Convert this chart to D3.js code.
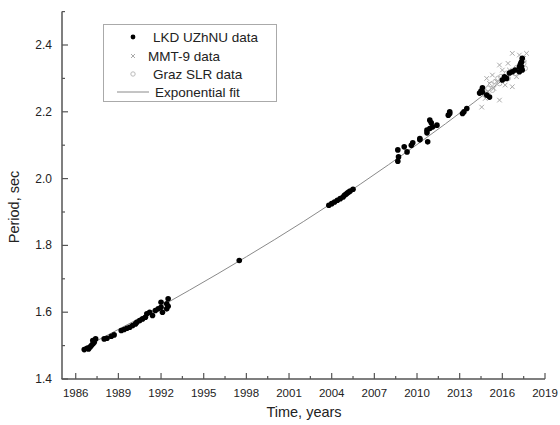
<!DOCTYPE html>
<html><head><meta charset="utf-8">
<script src="https://cdn.jsdelivr.net/npm/d3@7"></script>
<style>body{margin:0;background:#fff}svg{display:block;font-family:"Liberation Sans",Arial,sans-serif}</style>
</head><body><svg id="c" width="560" height="425"></svg>
<script>
const xTicks = [1986,1989,1992,1995,1998,2001,2004,2007,2010,2013,2016,2019];
const yTicks = [1.4,1.6,1.8,2.0,2.2,2.4];
const legendLabels = ["LKD UZhNU data","MMT-9 data","Graz SLR data","Exponential fit"];

const lkdYears = [1986.6,1986.8,1986.9,1987.0,1987.1,1987.2,1987.3,1987.2,1987.4,1988.0,1988.2,1988.5,1988.7,
  1989.2,1989.4,1989.6,1989.8,1990.0,1990.2,1990.3,1990.5,1990.7,1990.9,1991.0,1991.2,1991.4,1991.6,1991.8,1992.0,1992.0,1992.1,1992.4,1992.4,1992.5,1992.5,
  1997.5,
  2003.8,2004.0,2004.2,2004.4,2004.6,2004.8,2004.9,2005.0,2005.1,2005.2,2005.3,2005.5,
  2008.65,2008.65,2008.7,2009.1,2009.3,2009.6,2009.7,2010.2,2010.2,2010.7,2010.75,2010.7,2010.9,2010.9,2011.0,2011.1,2011.4,2012.2,2012.3,2012.3,2013.2,2013.3,2013.5,
  2014.4,2014.6,2014.6,2014.9,2015.1,2014.5,2016.0,2016.15,2016.3,2016.5,2016.7,2016.9,2017.2,2017.2,2017.35,2017.35,2017.4,2017.3,2017.4,2017.25];
const lkdPeriods = [1.488,1.492,1.490,1.495,1.500,1.505,1.510,1.515,1.520,1.520,1.522,1.528,1.532,
  1.545,1.548,1.552,1.555,1.560,1.565,1.570,1.575,1.580,1.585,1.595,1.600,1.590,1.605,1.610,1.615,1.630,1.600,1.610,1.625,1.640,1.618,
  1.755,
  1.920,1.925,1.930,1.935,1.940,1.945,1.950,1.953,1.957,1.960,1.963,1.968,
  2.052,2.086,2.065,2.095,2.080,2.100,2.107,2.116,2.120,2.137,2.110,2.145,2.150,2.175,2.167,2.155,2.160,2.190,2.195,2.200,2.195,2.200,2.210,
  2.256,2.259,2.272,2.250,2.244,2.262,2.295,2.305,2.300,2.316,2.320,2.325,2.320,2.334,2.335,2.350,2.360,2.345,2.325,2.340];

const mmtYears = [2014.55,2015.8,2016.7,2016.7,2017.2,2015.8,2014.9,2015.3,2015.6,2016.0,2017.0,2016.4,2016.5,2015.4,2015.1,2017.5,2017.7,2016.2,2015.0,2014.8];
const mmtPeriods = [2.214,2.235,2.275,2.375,2.370,2.340,2.300,2.310,2.290,2.325,2.305,2.345,2.325,2.270,2.285,2.360,2.375,2.280,2.260,2.240];

const grazYears = [2014.7,2015.0,2015.2,2015.5,2015.7,2015.9,2016.1,2016.3,2016.6,2016.8,2017.0,2017.3,2017.5,2015.3,2015.8,2016.4,2016.9,2017.6];
const grazPeriods = [2.262,2.270,2.282,2.290,2.300,2.305,2.300,2.315,2.320,2.322,2.332,2.338,2.345,2.265,2.285,2.300,2.315,2.330];

const fitYears = [1986.5,1990,1994,1998,2002,2006,2010,2014,2017.7];
const fitPeriods = [1.493,1.571,1.666,1.766,1.871,1.983,2.102,2.228,2.352];

const svg = d3.select("#c");
const x = d3.scaleLinear().domain([1985,2019]).range([61.5,545]);
const y = d3.scaleLinear().domain([1.4,2.5]).range([379,11.6]);
const axisCol = "#555", textCol = "#222";

svg.append("path")
  .datum(fitYears.map((d,i)=>[d,fitPeriods[i]]))
  .attr("fill","none").attr("stroke","#8a8a8a").attr("stroke-width",1)
  .attr("d", d3.line().x(d=>x(d[0])).y(d=>y(d[1])).curve(d3.curveMonotoneX));

svg.append("g").selectAll("circle").data(grazYears.map((d,i)=>[d,grazPeriods[i]])).join("circle")
  .attr("cx",d=>x(d[0])).attr("cy",d=>y(d[1])).attr("r",2.4)
  .attr("fill","none").attr("stroke","#bbb").attr("stroke-width",1);

const cr = 2.3;
svg.append("g").selectAll("path").data(mmtYears.map((d,i)=>[d,mmtPeriods[i]])).join("path")
  .attr("d",d=>{const cx=x(d[0]),cy=y(d[1]);return `M${cx-cr},${cy-cr}L${cx+cr},${cy+cr}M${cx-cr},${cy+cr}L${cx+cr},${cy-cr}`;})
  .attr("stroke","#aaa").attr("stroke-width",1);

svg.append("g").selectAll("circle").data(lkdYears.map((d,i)=>[d,lkdPeriods[i]])).join("circle")
  .attr("cx",d=>x(d[0])).attr("cy",d=>y(d[1])).attr("r",2.8).attr("fill","#000");

const gx = svg.append("g").attr("transform","translate(0,379)");
gx.append("line").attr("x1",61.5).attr("x2",545).attr("stroke",axisCol).attr("stroke-width",1.5);
gx.selectAll(".mj").data(xTicks).join("line").attr("x1",d=>x(d)).attr("x2",d=>x(d)).attr("y1",0).attr("y2",-6).attr("stroke",axisCol).attr("stroke-width",1.2);
gx.selectAll(".mn").data(xTicks.slice(0,-1).map(d=>d+1.5)).join("line").attr("x1",d=>x(d)).attr("x2",d=>x(d)).attr("y1",0).attr("y2",-3).attr("stroke",axisCol).attr("stroke-width",1.2);
gx.selectAll("text").data(xTicks).join("text").attr("x",d=>x(d)).attr("y",18).attr("text-anchor","middle")
  .attr("font-size",11.5).attr("fill",textCol).text(d=>d);

const gy = svg.append("g").attr("transform","translate(62,0)");
gy.append("line").attr("y1",y(2.5)).attr("y2",379).attr("stroke",axisCol).attr("stroke-width",1.5);
gy.selectAll(".mj").data(yTicks).join("line").attr("y1",d=>y(d)).attr("y2",d=>y(d)).attr("x1",0).attr("x2",6).attr("stroke",axisCol).attr("stroke-width",1.2);
gy.selectAll(".mn").data(yTicks.map(d=>d+0.1)).join("line").attr("y1",d=>y(d)).attr("y2",d=>y(d)).attr("x1",0).attr("x2",3).attr("stroke",axisCol).attr("stroke-width",1.2);
gy.selectAll("text").data(yTicks).join("text").attr("x",-10).attr("y",d=>y(d)+4).attr("text-anchor","end")
  .attr("font-size",12).attr("fill",textCol).text(d=>d.toFixed(1));

svg.append("text").attr("x",304).attr("y",417).attr("text-anchor","middle").attr("font-size",14.5).attr("fill",textCol).text("Time, years");
svg.append("text").attr("transform","translate(19,207) rotate(-90)").attr("text-anchor","middle").attr("font-size",14.5).attr("fill",textCol).text("Period, sec");

const lg = svg.append("g");
lg.append("rect").attr("x",103.5).attr("y",24.5).attr("width",173).attr("height",77).attr("fill","#fff").attr("stroke","#aaa").attr("stroke-width",1);
const rows = [37,56,74,92];
lg.append("circle").attr("cx",133).attr("cy",rows[0]).attr("r",2.4).attr("fill","#000");
lg.append("path").attr("d",`M${131},${rows[1]-2}L${135},${rows[1]+2}M${131},${rows[1]+2}L${135},${rows[1]-2}`).attr("stroke","#aaa").attr("stroke-width",1);
lg.append("circle").attr("cx",133).attr("cy",rows[2]).attr("r",2.2).attr("fill","none").attr("stroke","#bbb").attr("stroke-width",1);
lg.append("line").attr("x1",117).attr("x2",149).attr("y1",rows[3]).attr("y2",rows[3]).attr("stroke","#8a8a8a").attr("stroke-width",1);
const lx = [153,148,153,155];
lg.selectAll("text").data(legendLabels).join("text").attr("x",(d,i)=>lx[i]).attr("y",(d,i)=>rows[i]+5)
  .attr("font-size",13.5).attr("fill",textCol).text(d=>d);
</script></body></html>
